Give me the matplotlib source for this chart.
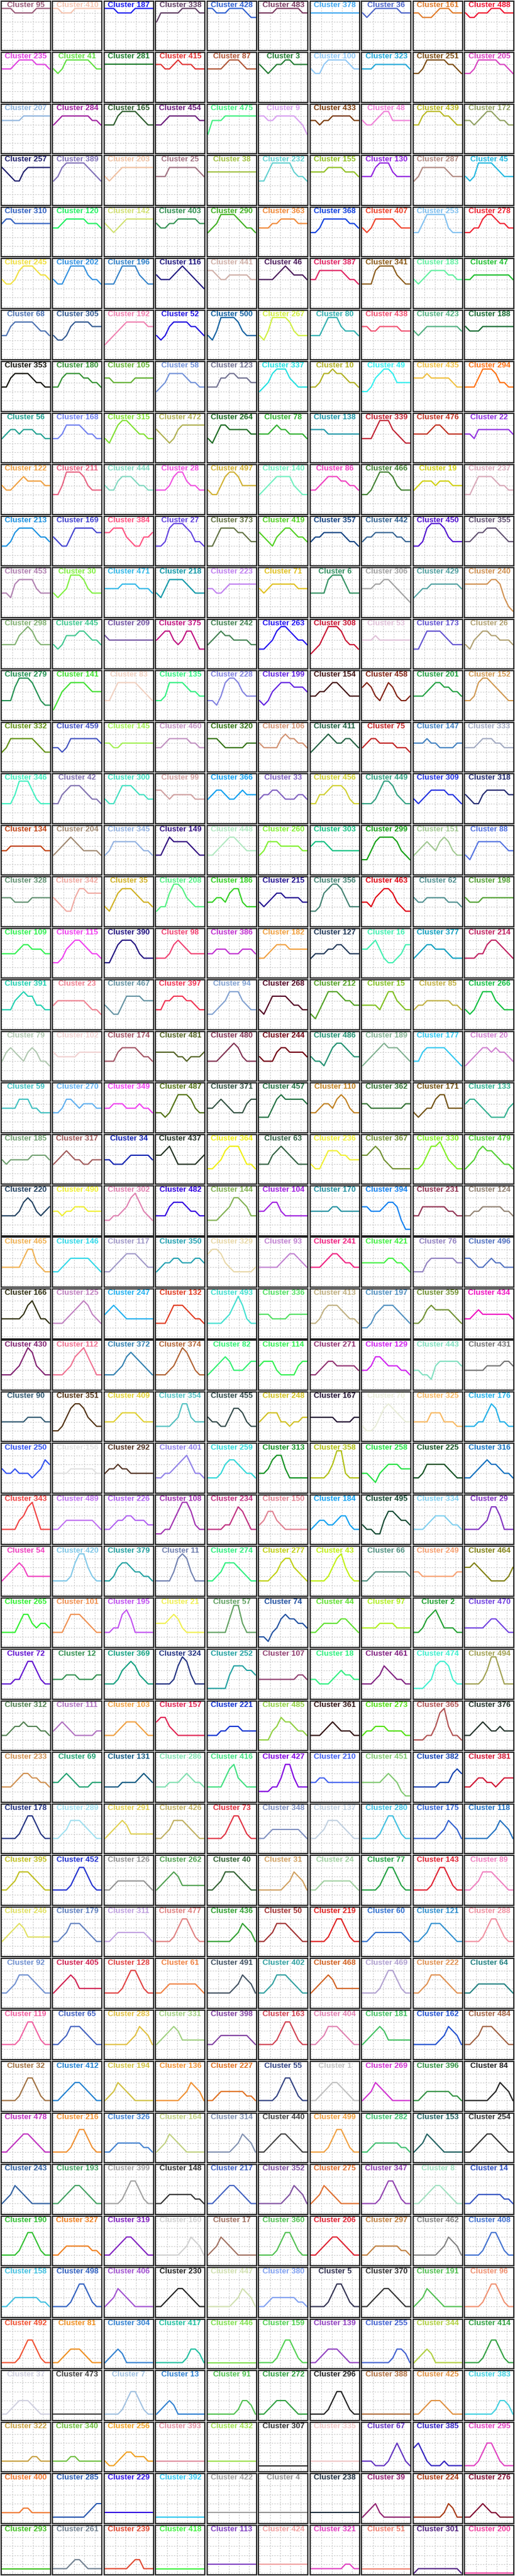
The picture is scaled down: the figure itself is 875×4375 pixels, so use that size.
import numpy as np
import matplotlib
matplotlib.use("Agg")
import matplotlib.pyplot as plt

# cluster numbers, one row of the grid per line
cluster_ids = [
    95, 410, 187, 338, 428, 483, 378, 36, 161, 488,
    235, 41, 281, 415, 87, 3, 100, 323, 251, 205,
    207, 284, 165, 454, 475, 9, 433, 48, 439, 172,
    257, 389, 203, 25, 38, 232, 155, 130, 287, 45,
    310, 120, 142, 403, 290, 363, 368, 407, 253, 278,
    245, 202, 196, 116, 441, 46, 387, 341, 183, 47,
    68, 305, 192, 52, 500, 267, 80, 438, 423, 188,
    353, 180, 105, 58, 123, 337, 10, 49, 435, 294,
    56, 168, 315, 472, 264, 78, 138, 339, 476, 22,
    122, 211, 444, 28, 497, 140, 86, 466, 19, 237,
    213, 169, 384, 27, 373, 419, 357, 442, 450, 355,
    453, 30, 471, 218, 223, 71, 6, 306, 429, 240,
    298, 445, 209, 375, 242, 263, 308, 53, 173, 26,
    279, 141, 83, 135, 228, 199, 154, 458, 201, 152,
    332, 459, 145, 460, 320, 106, 411, 75, 147, 333,
    346, 42, 300, 99, 366, 33, 456, 449, 309, 318,
    134, 204, 345, 149, 448, 260, 303, 299, 151, 88,
    328, 342, 35, 208, 186, 215, 356, 463, 62, 198,
    109, 115, 390, 98, 386, 182, 127, 16, 377, 214,
    391, 23, 467, 397, 94, 268, 212, 15, 85, 266,
    79, 102, 174, 481, 480, 244, 486, 189, 177, 20,
    59, 270, 349, 487, 371, 457, 110, 362, 171, 133,
    185, 317, 34, 437, 364, 63, 236, 367, 330, 479,
    220, 490, 302, 482, 144, 104, 170, 394, 231, 124,
    465, 146, 117, 350, 329, 93, 241, 421, 76, 496,
    166, 125, 247, 132, 493, 336, 413, 197, 359, 434,
    430, 112, 372, 374, 82, 114, 271, 129, 443, 431,
    90, 351, 409, 354, 455, 248, 167, 70, 325, 176,
    250, 156, 292, 401, 259, 313, 358, 258, 225, 316,
    343, 489, 226, 108, 234, 150, 184, 495, 334, 29,
    54, 420, 379, 11, 274, 277, 43, 66, 249, 464,
    265, 101, 195, 21, 57, 74, 44, 97, 2, 470,
    72, 12, 369, 324, 252, 107, 18, 461, 474, 494,
    312, 111, 103, 157, 221, 485, 361, 273, 365, 376,
    233, 69, 131, 286, 416, 427, 210, 451, 382, 381,
    178, 289, 291, 426, 73, 348, 137, 280, 175, 118,
    395, 452, 126, 262, 40, 31, 24, 77, 143, 89,
    246, 179, 311, 477, 436, 50, 219, 60, 121, 288,
    92, 405, 128, 61, 491, 402, 468, 469, 222, 64,
    119, 65, 283, 331, 398, 163, 404, 181, 162, 484,
    32, 412, 194, 136, 227, 55, 1, 269, 396, 84,
    478, 216, 326, 164, 314, 440, 499, 282, 153, 254,
    243, 193, 399, 148, 217, 352, 275, 347, 8, 14,
    190, 327, 319, 160, 17, 360, 206, 297, 462, 408,
    158, 498, 406, 230, 447, 380, 5, 370, 191, 96,
    492, 81, 304, 417, 446, 159, 139, 255, 344, 414,
    37, 473, 7, 13, 91, 272, 296, 388, 425, 383,
    322, 340, 256, 393, 432, 307, 335, 67, 385, 295,
    400, 285, 229, 392, 422, 4, 238, 39, 224, 276,
    293, 261, 239, 418, 113, 424, 321, 51, 301, 200,
]

line_colours = [
    '#9a5a78', '#f5c4b0', '#1a1af0', '#5e3d62', '#2e5fd0', '#7a3a60', '#40a8f0', '#4a62c8', '#e07a28', '#f01030',
    '#e040e0', '#60e040', '#1a7a2a', '#e03030', '#b05535', '#1f7a30', '#90c8f5', '#20a8d8', '#7a4a10', '#d840c0',
    '#90b5de', '#a020a0', '#2a5a2a', '#6a1a7a', '#40f080', '#d8a0f0', '#7a3a0a', '#f080d8', '#b8b820', '#90a060',
    '#1a1a6a', '#8070b8', '#f0c0a0', '#a07080', '#a0c040', '#60d0d0', '#90c020', '#9020e0', '#b08880', '#20b8e0',
    '#3060c0', '#20f060', '#d0e070', '#309050', '#40b020', '#f08838', '#1040e0', '#f04028', '#80c0f0', '#f02030',
    '#f0e040', '#3090e0', '#3080c8', '#201880', '#d0b0a8', '#4a1a5a', '#e02060', '#8a5a18', '#60f0a0', '#20c030',
    '#4a70b0', '#305890', '#f080b0', '#2010e0', '#1060a0', '#d0f040', '#30b0b0', '#f05070', '#50b080', '#156a30',
    '#101008', '#30902f', '#60b030', '#7090d8', '#707090', '#20e0e0', '#b0b020', '#30f0f0', '#f0c040', '#ff7010',
    '#20a090', '#7080f0', '#80e030', '#b0b050', '#1a6a20', '#30b030', '#2098a8', '#c02030', '#c03020', '#9030e0',
    '#f0a040', '#e86080', '#80d8c0', '#f050e0', '#d0b030', '#70f0c0', '#f040c0', '#408030', '#d0d010', '#d8a8b8',
    '#1890e0', '#4040d0', '#ff5080', '#6040e0', '#607040', '#50d020', '#104080', '#306090', '#5010d0', '#605070',
    '#b080b0', '#80f040', '#30b8e8', '#1098a8', '#c080f0', '#e0c020', '#309060', '#a0a0a0', '#50a0a0', '#d09050',
    '#80b070', '#40c890', '#7050a0', '#c01080', '#408050', '#2010f0', '#c81030', '#e0c0d8', '#6050d0', '#b0a070',
    '#209050', '#40e030', '#f0d0c0', '#30f080', '#8080e0', '#6020e0', '#401010', '#802010', '#20a040', '#d09850',
    '#609010', '#4050c0', '#a0f050', '#c090c0', '#307010', '#d09070', '#206040', '#c02020', '#4080c0', '#a0a8c0',
    '#40f0c0', '#8070b0', '#40e0c0', '#d0a0a0', '#10a0f0', '#8060c0', '#d0d030', '#30a080', '#2030e0', '#202870',
    '#c04010', '#a08870', '#90b0e0', '#301080', '#b0e8c0', '#80f030', '#10c080', '#10a010', '#a0c890', '#5070e0',
    '#609070', '#f0a8a0', '#d0b020', '#50f080', '#30d020', '#201090', '#408070', '#e00010', '#509090', '#50a030',
    '#30f050', '#f040f0', '#201080', '#f04070', '#c030d0', '#f0a040', '#203858', '#40f0b0', '#10a0c0', '#c02060',
    '#20d0b0', '#f08090', '#6090a0', '#f03050', '#80a0d0', '#500020', '#50a020', '#80c020', '#c0b040', '#10c040',
    '#b0c8b0', '#f0d0d0', '#a05060', '#506020', '#803050', '#700010', '#209070', '#80b090', '#30c8f0', '#d080d0',
    '#40c0c0', '#60b0f0', '#f040f0', '#507010', '#305040', '#207040', '#c08020', '#307030', '#705010', '#30b090',
    '#70a070', '#a05858', '#1020b0', '#203020', '#f0f010', '#306040', '#f0f030', '#709030', '#80f020', '#50d030',
    '#204060', '#f0f030', '#e080b0', '#3000e0', '#80b050', '#a020e0', '#2090a0', '#1080f0', '#903050', '#908070',
    '#f0b050', '#30d8e8', '#a098c8', '#20a0b0', '#e8d8a8', '#c080d0', '#f02080', '#40f040', '#9080c0', '#5070c0',
    '#303010', '#c080c0', '#20b0f0', '#e03a20', '#40e0d0', '#50e060', '#c0b080', '#5090c0', '#709030', '#f010c0',
    '#802070', '#f07090', '#3080b0', '#b06030', '#30f070', '#30f050', '#903070', '#d020f0', '#80e0c0', '#707070',
    '#305870', '#503010', '#e0d030', '#50c0c0', '#304848', '#d0c020', '#201030', '#e8ecd8', '#f8b860', '#20b0e8',
    '#3050f0', '#e0e0e0', '#503020', '#9080e8', '#30d8d8', '#109020', '#b0c010', '#20e040', '#105020', '#1070c0',
    '#f04040', '#c070f0', '#b060f0', '#a030b0', '#c03080', '#e08090', '#10a0f0', '#104830', '#80d0f0', '#8030c0',
    '#f040c0', '#80c8e8', '#20a0a0', '#7080b0', '#30f080', '#c0d010', '#c0f010', '#509080', '#f8a070', '#808010',
    '#30f030', '#f09050', '#c050f0', '#f0f050', '#60a060', '#2050a0', '#60e030', '#b0f020', '#20a030', '#7040e0',
    '#6010d0', '#309050', '#10a080', '#203080', '#20a0a0', '#904070', '#30f080', '#802080', '#40f0d0', '#a0a050',
    '#508050', '#b070c0', '#f0a040', '#e02050', '#1030d0', '#90d040', '#301010', '#50e010', '#b05050', '#203028',
    '#d09050', '#20a070', '#105880', '#80e0b0', '#40e080', '#8000e0', '#4060f0', '#80c870', '#1040b0', '#d01030',
    '#203080', '#a0e0f0', '#e0d050', '#c0b060', '#e03040', '#8090c0', '#c0d0e0', '#40c0e0', '#3060d0', '#2070c0',
    '#c0c020', '#2030d0', '#909090', '#50a050', '#306030', '#d0a060', '#a0d0a0', '#20a040', '#e02030', '#f080c0',
    '#e0e060', '#6080c0', '#c0a0e0', '#e08080', '#30a030', '#a03030', '#e02020', '#3070d0', '#3090d0', '#f090a0',
    '#7090d0', '#d02050', '#e04040', '#f08040', '#405060', '#30a0a0', '#d06020', '#b0a0d0', '#e09050', '#208080',
    '#f060a0', '#4060c0', '#e0c040', '#a0d080', '#8040a0', '#d04050', '#e080b0', '#40c060', '#2050d0', '#a06040',
    '#a07040', '#2080d0', '#d0c040', '#f09030', '#e07020', '#304080', '#c0c0c0', '#d030d0', '#309040', '#202020',
    '#c030c0', '#f09030', '#4080d0', '#c0d080', '#8090b0', '#404040', '#f0a040', '#40c070', '#206060', '#303030',
    '#3060a0', '#40a060', '#a0a0a0', '#303030', '#4060c0', '#8050a0', '#e07030', '#9040b0', '#a0e0c0', '#3050c0',
    '#30c030', '#f08020', '#8020c0', '#d0d0d0', '#a07060', '#50c050', '#e02030', '#c08040', '#808080', '#4070d0',
    '#40c0e0', '#3060c0', '#a050d0', '#202020', '#d0e0b0', '#80a0f0', '#303050', '#303030', '#50c050', '#f09070',
    '#f05030', '#f09020', '#3080d0', '#20c0a0', '#80e050', '#50d050', '#9040c0', '#4060d0', '#b0d040', '#30a040',
    '#d0d0e0', '#404040', '#a0c0e0', '#3080d0', '#50c050', '#30a040', '#202020', '#b07040', '#e09040', '#40d0e0',
    '#c8a040', '#70c040', '#f0a020', '#e090a0', '#a0e050', '#303030', '#f0c8c8', '#6030c0', '#3020c0', '#e040c0',
    '#f07830', '#2858b0', '#3010e0', '#30c8f0', '#a0a0a0', '#909090', '#203040', '#902070', '#a83810', '#800a30',
    '#40c020', '#708090', '#e04830', '#40f040', '#8040c0', '#f0a0a0', '#e040c0', '#f08070', '#502080', '#f040a0',
]

# hourly profile, 12 readings per cluster, each digit = level in eighths
profiles = [
    "999888889999", "998889999999", "999888899999", "688888999988", "998889999877", "888899999988", "888888888888", "878999999888", "887778999888", "877888999888",
    "777899998887", "767999999877", "888888888888", "887789888777", "777789998777", "876788998888", "766899999877", "777888888887", "667999998876", "667999998876",
    "777778888888", "678888888776", "666899998766", "667888888877", "477788888888", "887788888764", "776778888877", "766789977777", "668999988766", "776789987766",
    "876557888888", "568999998765", "656788888888", "666888888876", "777777777777", "557999997665", "777788887776", "666899976666", "568888887666", "656999987666",
    "788777777777", "667888887776", "765678888888", "766778888877", "567999987665", "666778888777", "556888888776", "656888887666", "557999996555", "556689987766",
    "655689998776", "655799997665", "555799997655", "766678987654", "887667777766", "666678987776", "668888887665", "555899997655", "656788887766", "667777777776",
    "557888887665", "544578888777", "345678888877", "545788887765", "546999986555", "546999986555", "555799976665", "776677777666", "656777777776", "766677777777",
    "557888876655", "557888877665", "776666677777", "456888876655", "555778877766", "456899976555", "556889887665", "445789986666", "777877777655", "555799986655",
    "567767776655", "556888876655", "546899876655", "765457888888", "546887777766", "666787766665", "777766666666", "555799976544", "666678876666", "665777777776",
    "655678777766", "446999986555", "655788876655", "555689976655", "544689986666", "456788886544", "556788877665", "445799986555", "567776777666", "446888876655",
    "445788887665", "654468888877", "778886544667", "445899987554", "446888877655", "765467887665", "566777776554", "566777776655", "445899986555", "556778887655",
    "554788886555", "545699986555", "666677776665", "546888876555", "665567777777", "656777777666", "555589997555", "666778876543", "456677777776", "777777887421",
    "555578986555", "545777887665", "766666666666", "678865688644", "567877666655", "445689987665", "345799986554", "666766666666", "446888876555", "546788776665",
    "444799986433", "246788887666", "446888887654", "445888876655", "443589986555", "434678887776", "556678876555", "787546875445", "555678877665", "445899876544",
    "457777776544", "554577777776", "665566666666", "556777776655", "777655555666", "655557877665", "456787667765", "567766665554", "666766555566", "555677766555",
    "444699975444", "446788876554", "544688876655", "776566666555", "567765567666", "566776555665", "446678887544", "444579986544", "545677776654", "654467777766",
    "556666666655", "456787655554", "457777776554", "446877776544", "445678876555", "457776666655", "677765555555", "335788887543", "456765787544", "435777777655",
    "666555566666", "654336887777", "435788876554", "344799865444", "556657885444", "545677666655", "334789986444", "554678875433", "655666665554", "655566666666",
    "555567766655", "334678876554", "335788875444", "444578765555", "556665556665", "445677766666", "455566776555", "667864334577", "456776665444", "444557887654",
    "444678775544", "566666665443", "543357777666", "446677766544", "334568886544", "435777765544", "324688876655", "555546886544", "455666666554", "434688865444",
    "467654676443", "655555666666", "444677776554", "666665545556", "444567875444", "544467766665", "544357887655", "345678777654", "446777776543", "345677676654",
    "555577755444", "445776566655", "556665556554", "443468887544", "556765444677", "333578777776", "445665787544", "665555555566", "434557885555", "677654333356",
    "545555566665", "456765544555", "554445666665", "667864444456", "334578886443", "444678765444", "433577766555", "667875433333", "334688975433", "345787765443",
    "444457875456", "554556665555", "334456897543", "444677765544", "333456887644", "556775444444", "555556655555", "665556776311", "446666665544", "445566666554",
    "444446885433", "334566666543", "334567776544", "345566555665", "788754333334", "444445677654", "444567765544", "555555665543", "333566666655", "665445655444",
    "444445786443", "333456787543", "567654444444", "333577765443", "333345797433", "555444455555", "334677765443", "223567776543", "334676666543", "445655555554",
    "333457985433", "333457897533", "333457876543", "333457986433", "345676444566", "566643333566", "334566555554", "445776555443", "443325666665", "444445555665",
    "444444555544", "223578875433", "444566665444", "333345885444", "544335776433", "456664434455", "555555444455", "322357876544", "444466644433", "333446874433",
    "544544434576", "444455555544", "455655444444", "334456786443", "333467765443", "445788533333", "333346994333", "443245666555", "334666665433", "334567665443",
    "333356896333", "334555555543", "334556655544", "223357997433", "333344687533", "457754333333", "345544566433", "433225776554", "333456665443", "333345886333",
    "345676444444", "333347996433", "334677655443", "333358985333", "334577765433", "333457886543", "333346896433", "334555555554", "554444444455", "667654333346",
    "333357754554", "333577765433", "334478633333", "555676433333", "333336995333", "221346766554", "334555566543", "444455554444", "334678644433", "444445665433",
    "333446886433", "444555444455", "333467875433", "333347985333", "222225777665", "444444444554", "443334565544", "333457654433", "222347887433", "333346996333",
    "334556555443", "456543333344", "333456665433", "677543333333", "333445554444", "222457665443", "333456544433", "344555444433", "222335895332", "334565445444",
    "333456655443", "445654333444", "333344445654", "333444565443", "333357854333", "222335885333", "445544444444", "444445654211", "333333444676", "334554434555",
    "333346886433", "334577765433", "345676444444", "334577765433", "333346886433", "334555555543", "334577765433", "333346886433", "333333457653", "333333457653",
    "334577765433", "333346886433", "334555555543", "345676444444", "334577765433", "333333457653", "334555555543", "333346886433", "333346886433", "334577765433",
    "345676444444", "334577765433", "334555555543", "333346886433", "333333457653", "334577765433", "333346886433", "334555555543", "334577765433", "333346886433",
    "334577765433", "345676444444", "333346886433", "334555555543", "333333457653", "334577765433", "345676444444", "333346886433", "334577765433", "334555555543",
    "333346886433", "334577765433", "333333457653", "345676444444", "334555555543", "333346886433", "334577765433", "345676444444", "333333457653", "334577765433",
    "222235775322", "223456654322", "234654322222", "222222346542", "223444444332", "222235775322", "223456654322", "234654322222", "223444444332", "222222346542",
    "223456654322", "222235775322", "223444444332", "234654322222", "222222346542", "223456654322", "222235775322", "223444444332", "234654322222", "223456654322",
    "234654322222", "223456654322", "222235775322", "223444444332", "223456654322", "222222346542", "234654322222", "222235775322", "223456654322", "223444444332",
    "222235775322", "223444444332", "223456654322", "222222346542", "234654322222", "222235775322", "223456654322", "223444444332", "222222346542", "222235775322",
    "223444444332", "222235775322", "234654322222", "223456654322", "222222346542", "223444444332", "222235775322", "223456654322", "234654322222", "222235775322",
    "111124664211", "112344432111", "123431111111", "111111124431", "111111111111", "111124664211", "112344432111", "111111124431", "123431111111", "111124664211",
    "112344432111", "111111111111", "111124664211", "123431111111", "111111124431", "112344432111", "111124664211", "111111111111", "112344432111", "111111124431",
    "222222233222", "222233222222", "211234433322", "222222222222", "222222222222", "111111111111", "222222222222", "222111246421", "564211121111", "111246642111",
    "222223322222", "111111112344", "222222222222", "111111111111", "222222222222", "222222222222", "222222222222", "123421111111", "111111124311", "112343221111",
    "111111111111", "111123321111", "111111233111", "111111111111", "222222222222", "222222222222", "111111112211", "111111111111", "011111111110", "000000000000",
]

hours = np.linspace(0, 23, 12)

fig, axes = plt.subplots(50, 10, figsize=(8.75, 43.75), dpi=100)
plt.subplots_adjust(left=0.002, right=0.998, top=0.9996, bottom=0.0004,
                    wspace=0.042, hspace=0.035)

for ax, cid, col, prof in zip(axes.flat, cluster_ids, line_colours, profiles):
    vals = np.array([int(c) for c in prof]) / 8
    ax.plot(hours, vals, color=col, lw=1.5)
    ax.text(0.5, 0.915, f'Cluster {cid}', transform=ax.transAxes, ha='center', va='center',
            color=col, fontsize=9.5, fontweight='bold', family=['Liberation Sans', 'DejaVu Sans'])
    ax.set_xlim(-0.5, 23.5)
    ax.set_ylim(-0.05, 1.33)
    ax.set_xticks([0, 5, 10, 15, 20])
    ax.set_yticks([0, 0.25, 0.5, 0.75, 1.0])
    ax.tick_params(length=0, labelbottom=False, labelleft=False)
    ax.grid(color='#c8c8c8', linestyle=(0, (2, 2)), linewidth=0.8)
    for s in ax.spines.values():
        s.set_linewidth(1.5)
        s.set_color('#222222')

fig.savefig('out.png', dpi=100)
